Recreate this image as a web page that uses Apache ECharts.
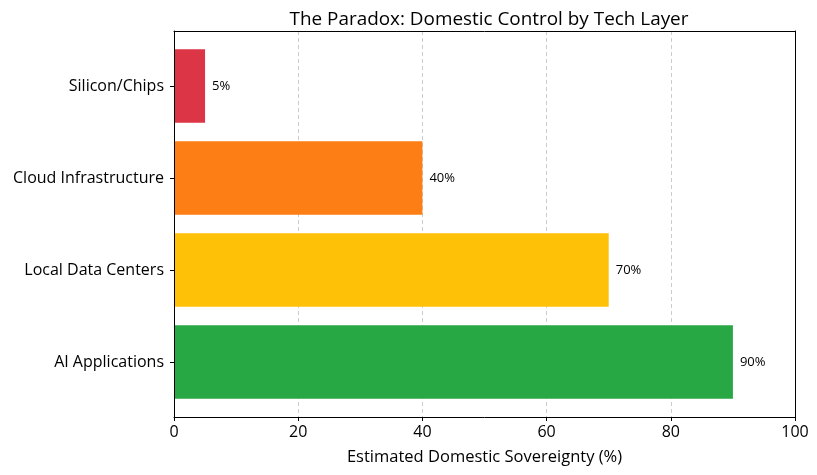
<!DOCTYPE html>
<html><head><meta charset="utf-8">
<script src="https://cdn.jsdelivr.net/npm/echarts@6/dist/echarts.min.js"></script>
<style>html,body{margin:0;padding:0;background:#fff}#c{width:817px;height:475px}</style>
</head><body><div id="c"></div>
<script>
const categories = ['AI Applications', 'Local Data Centers', 'Cloud Infrastructure', 'Silicon/Chips'];
const values = [90, 70, 40, 5];
const colors = ['#28a745', '#ffc107', '#fd7e14', '#dc3545'];
const xTicks = [0, 20, 40, 60, 80, 100];

const FONT = '"Open Sans", "DejaVu Sans", sans-serif';
const chart = echarts.init(document.getElementById('c'), null, {renderer: 'canvas'});
const border = {show: true, onZero: false, lineStyle: {color: '#000', width: 1}};
chart.setOption({
  animation: false,
  backgroundColor: '#fff',
  textStyle: {fontFamily: FONT},
  title: {
    text: 'The Paradox: Domestic Control by Tech Layer',
    left: 484, top: 5, textAlign: 'center',
    textStyle: {fontFamily: FONT, fontSize: 18.9, fontWeight: 'normal', color: '#000'}
  },
  grid: [
    {left: 174, right: 22, top: 31, bottom: 58},
    {left: 174, right: 22, top: 40, bottom: 67}
  ],
  xAxis: [
    {
      gridIndex: 0, type: 'value', min: 0, max: 100, interval: 20, z: 1, position: 'bottom',
      name: 'Estimated Domestic Sovereignty (%)', nameLocation: 'middle', nameGap: 32,
      nameTextStyle: {fontFamily: FONT, fontSize: 16.5, color: '#000'},
      axisLine: {show: false},
      axisTick: {show: true, length: 4, inside: false, lineStyle: {color: '#000'}},
      axisLabel: {fontFamily: FONT, fontSize: 16, color: '#000', margin: 7,
        formatter: v => xTicks.includes(v) ? String(v) : ''},
      splitLine: {show: true, lineStyle: {color: '#cccccc', type: [4, 3], width: 1}}
    },
    {gridIndex: 1, type: 'value', min: 0, max: 100, show: false},
    {gridIndex: 0, type: 'value', min: 0, max: 100, position: 'top', z: 10,
      axisLine: border, axisTick: {show: false}, axisLabel: {show: false}, splitLine: {show: false}}
  ],
  yAxis: [
    {gridIndex: 0, type: 'value', min: 0, max: 1, position: 'left', z: 10,
      axisLine: border, axisTick: {show: false}, axisLabel: {show: false}, splitLine: {show: false}},
    {
      gridIndex: 1, type: 'category', data: categories,
      axisLine: {show: false},
      axisTick: {show: true, alignWithLabel: true, length: 4, lineStyle: {color: '#000'}},
      axisLabel: {fontFamily: FONT, fontSize: 16, color: '#000', margin: 10},
      splitLine: {show: false}
    },
    {gridIndex: 0, type: 'value', min: 0, max: 1, position: 'right', z: 10,
      axisLine: border, axisTick: {show: false}, axisLabel: {show: false}, splitLine: {show: false}}
  ],
  graphic: [],
  series: [{
    type: 'bar', xAxisIndex: 1, yAxisIndex: 1,
    data: values.map((v, i) => ({value: v, itemStyle: {color: colors[i]}})),
    barWidth: '80%',
    label: {show: true, position: 'right', distance: 7, formatter: '{c}%',
      fontFamily: FONT, fontSize: 13, color: '#000'}
  }]
});
// bottom border line via a dedicated x axis sharing grid 0
chart.setOption({
  xAxis: [{}, {}, {}, {gridIndex: 0, type: 'value', min: 0, max: 100, position: 'bottom', offset: 0, z: 10,
    axisLine: border, axisTick: {show: false}, axisLabel: {show: false}, splitLine: {show: false}}]
});
</script></body></html>
